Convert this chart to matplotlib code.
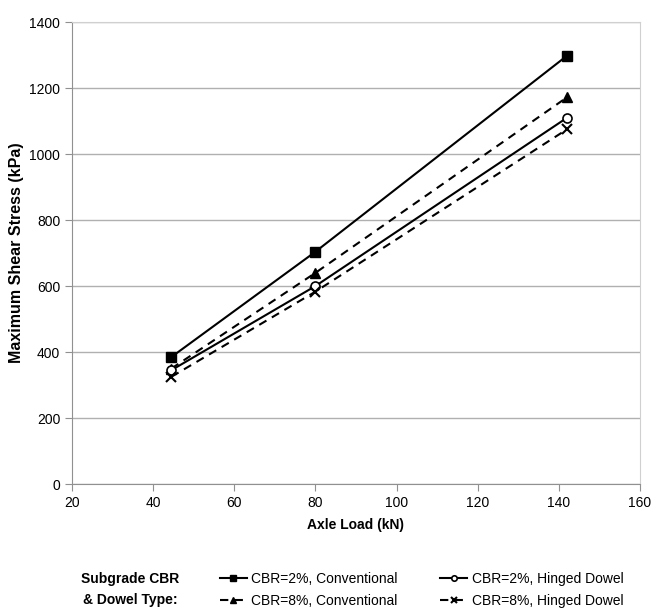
import matplotlib.pyplot as plt

plt.rcParams['font.family'] = ['Liberation Sans', 'DejaVu Sans']

# Data
axle_load = [44.5, 80, 142]
cbr2_conv = [385, 704, 1298]
cbr8_conv = [350, 640, 1172]
cbr2_hinged = [345, 600, 1110]
cbr8_hinged = [325, 583, 1075]

x_ticks = [20, 40, 60, 80, 100, 120, 140, 160]
y_ticks = [0, 200, 400, 600, 800, 1000, 1200, 1400]

fig = plt.figure(figsize=(6.51, 6.15), dpi=100)
ax = fig.add_axes([0.1106, 0.213, 0.8724, 0.751])

ax.plot(axle_load, cbr2_conv, color='black', lw=1.5, ls='-',
        marker='s', ms=6.5, mfc='black', label='CBR=2%, Conventional')
ax.plot(axle_load, cbr8_conv, color='black', lw=1.5, ls=(0, (4, 3)),
        marker='^', ms=6.5, mfc='black', label='CBR=8%, Conventional')
ax.plot(axle_load, cbr2_hinged, color='black', lw=1.5, ls='-',
        marker='o', ms=6.5, mfc='white', mew=1.2, label='CBR=2%, Hinged Dowel')
ax.plot(axle_load, cbr8_hinged, color='black', lw=1.5, ls=(0, (4, 3)),
        marker='x', ms=6.5, mew=1.5, label='CBR=8%, Hinged Dowel')

ax.set_xlim(20, 160)
ax.set_ylim(0, 1400)
ax.set_xticks(x_ticks)
ax.set_yticks(y_ticks)
ax.grid(axis='y', color='#b0b0b0', lw=1)
ax.set_axisbelow(True)
for side in ['left', 'bottom']:
    ax.spines[side].set_color('#909090')
for side in ['top', 'right']:
    ax.spines[side].set_color('#d0d0d0')
ax.tick_params(direction='out', length=5, color='#909090', labelsize=10)

ax.set_xlabel('Axle Load (kN)', fontsize=10, fontweight='bold', labelpad=6)
ax.set_ylabel('Maximum Shear Stress (kPa)', fontsize=11.5, fontweight='bold')
ax.yaxis.set_label_coords(-0.085, 0.5)

fig.text(0.20, 0.041, 'Subgrade CBR\n& Dowel Type:', ha='center', va='center',
         fontsize=10, fontweight='bold', linespacing=1.6)
fig.legend(loc='center left', bbox_to_anchor=(0.318, 0.041), ncol=2,
           frameon=False, fontsize=10, handlelength=2.0, markerscale=0.6,
           columnspacing=3.0, handletextpad=0.3, labelspacing=0.55)

fig.savefig('out.png', dpi=100)
